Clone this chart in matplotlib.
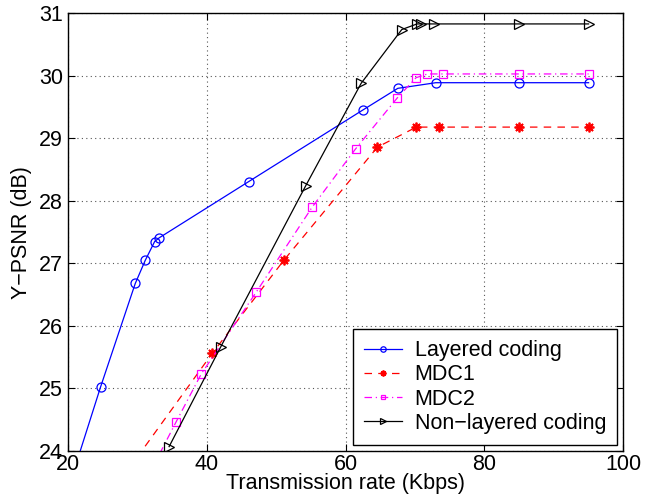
import matplotlib
matplotlib.use("Agg")
import matplotlib.pyplot as plt

plt.rcParams['font.family'] = ['Liberation Sans', 'DejaVu Sans']

layered_x = [20.0, 24.75, 29.73, 31.17, 32.52, 33.18, 46.08, 62.45, 67.53, 73.0, 85.0, 95.0]
layered_y = [23.37, 25.03, 26.68, 27.05, 27.35, 27.41, 28.31, 29.45, 29.80, 29.89, 29.89, 29.89]

mdc1_x = [25.0, 40.8, 51.12, 64.6, 70.2, 73.47, 85.0, 95.0]
mdc1_y = [23.13, 25.56, 27.05, 28.86, 29.18, 29.18, 29.18, 29.18]

mdc2_x = [30.0, 35.63, 39.22, 47.14, 55.2, 61.44, 67.48, 70.16, 71.8, 74.04, 85.0, 95.0]
mdc2_y = [23.26, 24.47, 25.23, 26.54, 27.90, 28.83, 29.65, 29.97, 30.03, 30.03, 30.03, 30.03]

nonlayered_x = [34.6, 42.01, 54.26, 62.25, 68.1, 70.3, 70.9, 72.75, 85.0, 95.0]
nonlayered_y = [24.07, 25.66, 28.24, 29.88, 30.74, 30.83, 30.83, 30.83, 30.83, 30.83]

FS = 15.5

fig = plt.figure(figsize=(6.51, 5.01), dpi=100)
ax = fig.add_axes([67.7/651, 1 - 451/501, (623.3-67.7)/651, (451-13.3)/501])

ax.plot(layered_x, layered_y, color='#0000ff', linestyle='-', marker='o',
        markersize=6.5, markerfacecolor='none', markeredgewidth=0.9, linewidth=0.9,
        label='Layered coding')
ax.plot(mdc1_x, mdc1_y, color='#ff0000', linestyle=(0, (6, 5)), marker=(8, 2, 0),
        markersize=7, markeredgewidth=1.3, linewidth=0.9,
        label='MDC1')
ax.plot(mdc2_x, mdc2_y, color='#ff00ff', linestyle=(0, (6, 3, 1, 3)), marker='s',
        markersize=6, markerfacecolor='none', markeredgewidth=0.9, linewidth=0.9,
        label='MDC2')
ax.plot(nonlayered_x, nonlayered_y, color='black', linestyle='-', marker='>',
        markersize=7, markerfacecolor='none', markeredgewidth=0.9, linewidth=0.9,
        label='Non\u2212layered coding')

ax.set_xlim(20, 100)
ax.set_ylim(24, 31)
ax.set_xticks([20, 40, 60, 80, 100])
ax.set_yticks([24, 25, 26, 27, 28, 29, 30, 31])
ax.tick_params(direction='in', top=True, right=True, length=5, width=0.8, labelsize=FS)
ax.tick_params(axis='x', pad=2)
ax.grid(True, linestyle=(0, (1, 3)), color='#555555', linewidth=0.8)
for s in ax.spines.values():
    s.set_linewidth(1.0)

ax.set_xlabel('Transmission rate (Kbps)', fontsize=FS, labelpad=-1)
ax.set_ylabel('Y\u2212PSNR (dB)', fontsize=FS, labelpad=5)

leg = ax.legend(loc='lower right', fontsize=FS, frameon=True, fancybox=False,
                edgecolor='black', framealpha=1, handlelength=1.75, markerscale=0.6,
                borderaxespad=0.3, labelspacing=0.15, handletextpad=0.6,
                borderpad=0.5)
leg.get_frame().set_linewidth(1.0)

fig.savefig('out.png', dpi=100)
